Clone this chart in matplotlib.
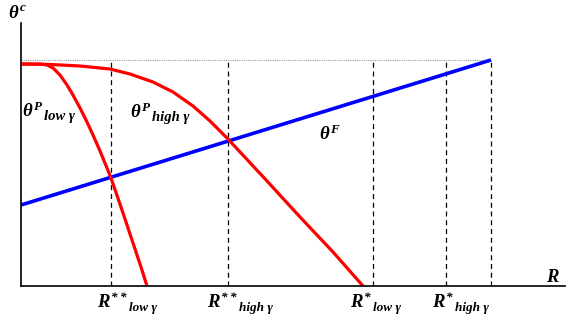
import matplotlib
matplotlib.use("Agg")
import matplotlib.pyplot as plt

plt.rcParams['mathtext.fontset'] = 'custom'
plt.rcParams['mathtext.it'] = 'Liberation Serif:italic:bold'
plt.rcParams['mathtext.rm'] = 'Liberation Serif:italic:bold'
plt.rcParams['mathtext.bf'] = 'Liberation Serif:italic:bold'

# Data (arbitrary units)
theta_F_R = [0, 470]
theta_F = [81, 226]

low_R = [0, 20, 26, 32, 39, 46, 52, 59, 66, 72, 79, 86, 90, 100, 110, 120, 126]
low_theta = [222, 222, 221, 218, 211, 201, 191, 178, 164, 151, 135, 118, 108, 79, 49, 19, 0]

high_R = [0, 30, 59, 89, 109, 132, 152, 172, 189, 206, 246, 279, 312, 342]
high_theta = [222, 221.5, 220, 217, 212, 204, 194, 180, 165, 148, 105, 69, 34, 0]

crit_R = [90, 207, 352, 425, 470]
crit_main = [r'$R^{**}$', r'$R^{**}$', r'$R^{*}$', r'$R^{*}$']
crit_sub = ['low γ', 'high γ', 'low γ', 'high γ']
theta_max = 226

W, H = 568, 320
fig = plt.figure(figsize=(W/100, H/100), dpi=100)
ax = fig.add_axes([21/W, (H-286)/H, (565-21)/W, (286-23)/H])
ax.set_xlim(0, 544)
ax.set_ylim(0, 263)
for s in ['top', 'right']:
    ax.spines[s].set_visible(False)
ax.spines['left'].set_linewidth(1.2)
ax.spines['bottom'].set_linewidth(1.2)
ax.set_xticks([])
ax.set_yticks([])

ax.plot([0, theta_F_R[-1]], [theta_max, theta_max], color='#999999', lw=0.8, ls=(0, (1, 1)))
for r in crit_R:
    ax.plot([r, r], [0, theta_max], color='black', lw=0.9, ls=(0, (4, 3)))

ax.plot(theta_F_R, theta_F, color='#0000ff', lw=2.6, solid_capstyle='butt')
ax.plot(low_R, low_theta, color='#ff0000', lw=2.3, solid_joinstyle='round')
ax.plot(high_R, high_theta, color='#ff0000', lw=2.3, solid_joinstyle='round')

FONT = dict(family='Liberation Serif', style='italic', weight='bold')


def label(main, sub, x_left, base, fs_main=13.5, fs_sub=9.5, drop=3, gap=1):
    t = fig.text(x_left / W, (H - base) / H, main, fontsize=fs_main,
                 va='baseline', ha='left')
    if sub:
        fig.canvas.draw()
        bb = t.get_window_extent()
        fig.text((bb.x1 + gap) / W, (H - base - drop) / H, sub, fontsize=fs_sub,
                 va='baseline', ha='left', **FONT)


label(r'$\theta^{c}$', None, 8, 18)
label(r'$\theta^{P}$', crit_sub[0], 22, 117, fs_sub=10.5)
label(r'$\theta^{P}$', crit_sub[1], 130, 118, fs_sub=10.5)
label(r'$\theta^{F}$', None, 319, 140)
label(r'$R$', None, 546, 282)
offsets = [-14, -21, -23, -14]
for r, m, s, off in zip(crit_R, crit_main, crit_sub, offsets):
    label(m, s, r + 21 + off, 308)

fig.savefig('out.png', dpi=100)
